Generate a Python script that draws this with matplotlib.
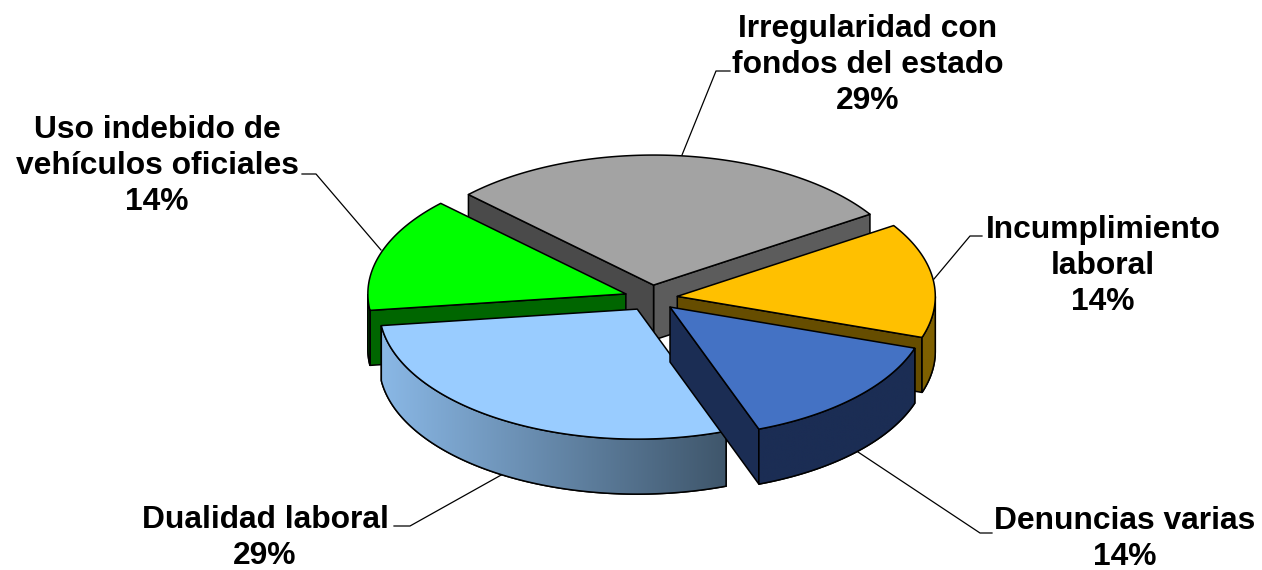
import numpy as np
import matplotlib
matplotlib.use("Agg")
import matplotlib.pyplot as plt
from matplotlib.colors import to_rgb
from matplotlib.patches import Polygon

labels = ["Irregularidad con\nfondos del estado", "Uso indebido de\nvehículos oficiales", "Dualidad laboral",
          "Denuncias varias", "Incumplimiento\nlaboral"]
values = [2, 1, 2, 1, 1]

top_colors = ["#A3A3A3", "#00FF00", "#99CCFF", "#4472C4", "#FFC000"]
start_wall = ["#5C5C5C", "#006600", "#4D6680", "#1B2D54", "#664D00"]
end_wall = ["#4A4A4A", "#006600", "#4D6680", "#1B2D54", "#664D00"]
rim_from = ["#666666", "#006600", "#8AB8E6", "#1B2D54", "#7F6000"]
rim_to = ["#666666", "#006600", "#3F566B", "#1B2D54", "#7F6000"]

CX, CY, RX, RY, DEPTH, EXPLODE, START = 651, 298, 258, 130, 55, 0.1, 33

plt.rcParams["font.family"] = ["Liberation Sans", "DejaVu Sans"]
fig = plt.figure(figsize=(12.62, 5.70), dpi=100)
ax = fig.add_axes([0, 0, 1, 1])
ax.axis("off")


def ell(a, cx, cy):
    a = np.radians(a)
    return cx + RX * np.cos(a), cy - RY * np.sin(a)


# slices, angles going counter clockwise from START
total = sum(values)
angles = START + np.concatenate([[0], np.cumsum(values)]) * 360.0 / total
slices = []
for i in range(len(values)):
    a0, a1 = angles[i], angles[i + 1]
    mid = np.radians((a0 + a1) / 2)
    cx = CX + EXPLODE * 265 * np.cos(mid)
    cy = CY - EXPLODE * RY * np.sin(mid)
    slices.append((i, a0, a1, cx, cy))


def draw_rim(i, ex, ey):
    # outer rim, shaded left to right through a clipped image
    c0, c1 = np.array(to_rgb(rim_from[i])), np.array(to_rgb(rim_to[i]))
    grad = np.linspace(0, 1, 256)[None, :, None]
    img = c0 + (c1 - c0) * grad
    poly = Polygon(np.c_[np.r_[ex, ex[::-1]], np.r_[ey, ey[::-1] + DEPTH]], fc="none", ec="black", lw=1.1, zorder=2)
    ax.add_patch(poly)
    im = ax.imshow(img, extent=(ex.min(), ex.max(), ey.max() + DEPTH, ey.min()), aspect="auto", zorder=2,
                   interpolation="bilinear")
    im.set_clip_path(poly)
    ax.add_patch(Polygon(poly.get_xy(), fc="none", ec="black", lw=1.1, zorder=2))


def draw_slice(i, a0, a1, cx, cy):
    ts = np.linspace(a0, a1, 200)
    ex, ey = ell(ts, cx, cy)
    edge = dict(ec="black", lw=1.1, joinstyle="round", zorder=2)

    # only the walls that face the viewer
    if np.cos(np.radians(a0)) > 0:
        x, y = ell(a0, cx, cy)
        ax.fill([cx, x, x, cx], [cy, y, y + DEPTH, cy + DEPTH], fc=start_wall[i], **edge)
    if np.cos(np.radians(a1)) < 0:
        x, y = ell(a1, cx, cy)
        ax.fill([cx, x, x, cx], [cy, y, y + DEPTH, cy + DEPTH], fc=end_wall[i], **edge)

    front = np.sin(np.radians(ts)) < 0
    if front.sum() > 1:
        draw_rim(i, ex[front], ey[front])

    ax.fill(np.r_[cx, ex], np.r_[cy, ey], fc=top_colors[i], **edge)


# back to front, the blue slice sits over the light blue one
for k in [0, 1, 4, 2, 3]:
    draw_slice(*slices[k])

# labels
label_pos = [(868, 65), (157, 166), (265, 538), (1125, 539), (1103, 266)]
for name, val, (x, y) in zip(labels, values, label_pos):
    pct = round(100 * val / total)
    ax.text(x, y, f"{name}\n{pct}%", ha="center", va="center", fontsize=22.9, fontweight="bold",
            linespacing=1.24, color="black")

# leader lines
leaders = [[(682, 155), (716, 71), (730, 71)],
           [(381, 250), (316, 174), (302, 174)],
           [(503, 474), (410, 526), (394, 526)],
           [(858, 452), (980, 533), (992, 533)],
           [(934, 279), (970, 236), (982, 236)]]
for pts in leaders:
    xs, ys = zip(*pts)
    ax.plot(xs, ys, color="black", lw=0.9, zorder=1)

ax.set_xlim(0, 1262)
ax.set_ylim(570, 0)
fig.savefig("out.png", dpi=100)
